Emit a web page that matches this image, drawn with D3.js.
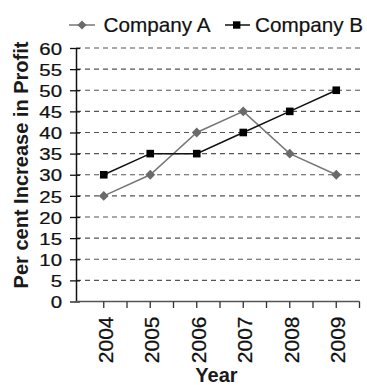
<!DOCTYPE html>
<html>
<head>
<meta charset="utf-8">
<script src="https://cdn.jsdelivr.net/npm/d3@7"></script>
<style>
  body { margin: 0; background: #fff; }
  svg { display: block; font-family: "Liberation Sans", Arial, sans-serif; }
</style>
</head>
<body>
<svg id="svg" width="367" height="385"></svg>
<script>
const years = ["2004", "2005", "2006", "2007", "2008", "2009"];
const companyA = [25, 30, 40, 45, 35, 30];
const companyB = [30, 35, 35, 40, 45, 50];
const yTicks = [0, 5, 10, 15, 20, 25, 30, 35, 40, 45, 50, 55, 60];

const svg = d3.select("#svg"),
    left = 76,
    right = 359.5,
    x = d3.scaleBand().domain(years).range([80.5, 359.5]).paddingInner(0),
    y = d3.scaleLinear().domain([0, 60]).range([301.5, 48]);

// dashed grid
svg.append("g").selectAll("line").data(yTicks.filter(d => d > 0)).join("line")
    .attr("x1", left).attr("x2", 361)
    .attr("y1", d => y(d)).attr("y2", d => y(d))
    .style("stroke", "#555").style("stroke-width", 1.2).style("stroke-dasharray", "5,4");

// y axis
const yAxis = svg.append("g").attr("transform", "translate(" + left + ",0)")
    .call(d3.axisLeft(y).tickValues(yTicks).tickSize(6).tickSizeOuter(0));
yAxis.select(".domain").style("stroke", "#111").style("stroke-width", 1.5);
yAxis.selectAll(".tick line").attr("x1", 4).style("stroke", "#111").style("stroke-width", 1.3);
yAxis.selectAll(".tick text")
    .attr("x", -14 / 1.2).attr("dy", "0.36em")
    .attr("transform", "scale(1.2,1)")
    .style("font-size", "17px").style("fill", "#111")
    .style("stroke", "#111").style("stroke-width", 0.25)
    .style("font-family", "'Liberation Sans', Arial, sans-serif");

// x axis
const xAxisG = svg.append("g").attr("transform", "translate(0," + y(0) + ")");
xAxisG.append("line").attr("x1", left).attr("x2", right)
    .style("stroke", "#555").style("stroke-width", 1.6);
const bounds = years.slice(1).map(d => x(d)).concat([x(years[years.length - 1]) + x.bandwidth()]);
xAxisG.selectAll(".bt").data(bounds).join("line").attr("class", "bt")
    .attr("x1", d => d).attr("x2", d => d).attr("y1", 0).attr("y2", 6.5)
    .style("stroke", "#333").style("stroke-width", 1.3);
const xa = xAxisG.append("g").call(d3.axisBottom(x).tickSize(6.5).tickSizeOuter(0));
xa.select(".domain").remove();
xa.selectAll(".tick line").style("stroke", "#333").style("stroke-width", 1.3);
xa.selectAll(".tick text")
    .attr("transform", "rotate(-90)")
    .attr("x", -15).attr("y", 0).attr("dy", "0.43em")
    .style("text-anchor", "end")
    .style("font-size", "21px").style("fill", "#111")
    .style("stroke", "#111").style("stroke-width", 0.25)
    .style("font-family", "'Liberation Sans', Arial, sans-serif");

// axis titles
svg.append("text")
    .attr("transform", "translate(27.5,165) rotate(-90)")
    .style("text-anchor", "middle").style("font-weight", "bold").style("font-size", "20px").style("fill", "#1a1a1a")
    .text("Per cent Increase in Profit");
svg.append("text")
    .attr("x", 216.5).attr("y", 382)
    .style("text-anchor", "middle").style("font-weight", "bold").style("font-size", "20px").style("fill", "#1a1a1a")
    .text("Year");

const cx = d => x(d) + x.bandwidth() / 2;
const line = vals => d3.line().x((d, i) => cx(years[i])).y(d => y(d))(vals);

// company A
svg.append("path").attr("d", line(companyA)).attr("fill", "none")
    .style("stroke", "#777").style("stroke-width", 1.5);
svg.append("g").selectAll("path").data(companyA).join("path")
    .attr("d", d3.symbol(d3.symbolSquare, 48)())
    .attr("transform", (d, i) => "translate(" + cx(years[i]) + "," + y(d) + ") rotate(45)")
    .style("fill", "#6a6a6a");

// company B
svg.append("path").attr("d", line(companyB)).attr("fill", "none")
    .style("stroke", "#111").style("stroke-width", 1.5);
svg.append("g").selectAll("rect").data(companyB).join("rect")
    .attr("x", (d, i) => cx(years[i]) - 3.8).attr("y", d => y(d) - 3.8)
    .attr("width", 7.6).attr("height", 7.6)
    .style("fill", "#000");

// legend
const legend = svg.append("g");
legend.append("line").attr("x1", 69).attr("x2", 95).attr("y1", 25).attr("y2", 25)
    .style("stroke", "#777").style("stroke-width", 1.5);
legend.append("path").attr("d", d3.symbol(d3.symbolSquare, 40)())
    .attr("transform", "translate(82,25) rotate(45)").style("fill", "#6a6a6a");
legend.append("text").attr("x", 103.5).attr("y", 31.5)
    .style("font-size", "20.7px").style("fill", "#111")
    .style("stroke", "#111").style("stroke-width", 0.2).text("Company A");
legend.append("line").attr("x1", 225).attr("x2", 250).attr("y1", 25).attr("y2", 25)
    .style("stroke", "#111").style("stroke-width", 1.5);
legend.append("rect").attr("x", 233).attr("y", 21.3).attr("width", 7.4).attr("height", 7.4)
    .style("fill", "#000");
legend.append("text").attr("x", 255).attr("y", 31.5)
    .style("font-size", "20.7px").style("fill", "#111")
    .style("stroke", "#111").style("stroke-width", 0.2).text("Company B");
</script>
</body>
</html>
